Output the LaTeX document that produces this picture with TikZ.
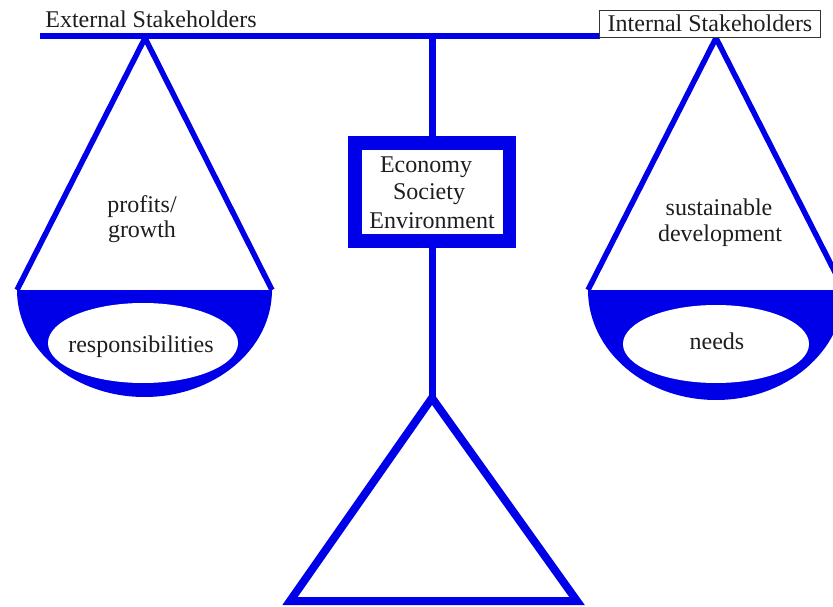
\documentclass[tikz,border=0pt]{standalone}
\usepackage{fontspec}
\setmainfont{Liberation Serif}
\definecolor{sblue}{RGB}{0,0,232}
\definecolor{txt}{RGB}{30,30,30}
\begin{document}
\begin{tikzpicture}[x=1pt,y=-1pt,
  beam/.style={draw=sblue,line width=5.5pt,line join=round},
  post/.style={draw=sblue,line width=7pt},
  basetri/.style={draw=sblue,line width=8pt,line join=miter},
  bowl/.style={fill=sblue},
  hole/.style={fill=white},
  lbl/.style={font=\fontsize{24}{26}\selectfont,text=txt,inner sep=0pt,anchor=base},
  tagbox/.style={draw=black!80,line width=0.8pt,fill=white,minimum width=221pt,minimum height=27pt,inner sep=0pt},
  framebox/.style={draw=sblue,line width=13.5pt,fill=white,minimum width=154.5pt,minimum height=98pt,inner sep=0pt}]
\clip (0,0) rectangle (833,607);
\fill[white] (0,0) rectangle (833,607);

% beam and central post
\coordinate (bL) at (40,36);
\coordinate (bR) at (600,36);
\coordinate (pTop) at (432,36);
\coordinate (pBot) at (432,398);
\draw[beam] (bL) -- (bR);
\draw[post] (pTop) -- (pBot);

% central frame
\node[framebox] (frame) at (432,192) {};
\node[lbl] (eco) at (426,173) {Economy};
\node[lbl] (soc) at (429,200) {Society};
\node[lbl] (env) at (432,228) {Environment};

% base triangle
\coordinate (tA) at (432,398);
\coordinate (tR) at (577,601);
\coordinate (tL) at (290,601);
\draw[basetri] (tA) -- (tR) -- (tL) -- cycle;

% left pan
\coordinate (lA) at (145,38);
\coordinate (lL) at (17,290);
\coordinate (lR) at (272,290);
\fill[bowl] (lL) .. controls (17,349.1) and (74.1,397) .. (144.5,397)
            .. controls (214.9,397) and (272,349.1) .. (lR) -- cycle;
\draw[beam] (lL) -- (lA) -- (lR);
\fill[hole] (143,343) ellipse[x radius=95, y radius=40];
\node[lbl] (resp) at (141,352) {responsibilities};
\node[lbl] (prof) at (142,212) {profits/};
\node[lbl] (grow) at (142,237) {growth};

% right pan
\coordinate (rA) at (716,38);
\coordinate (rL) at (588,290);
\coordinate (rR) at (844,290);
\fill[bowl] (rL) .. controls (588,350.75) and (645.3,400) .. (716,400)
            .. controls (786.7,400) and (844,350.75) .. (rR) -- cycle;
\draw[beam] (rL) -- (rA) -- (rR);
\fill[hole] (716,344) ellipse[x radius=93, y radius=39];
\node[lbl] (needs) at (717,349) {needs};
\node[lbl] (sust) at (719,215) {sustainable};
\node[lbl] (dev) at (720,241) {development};

% stakeholder labels
\node[lbl] (ext) at (151,28) {External Stakeholders};
\node[tagbox] (intbox) at (709.5,23.5) {};
\node[lbl] (int) at (710,32) {Internal Stakeholders};
\end{tikzpicture}
\end{document}
